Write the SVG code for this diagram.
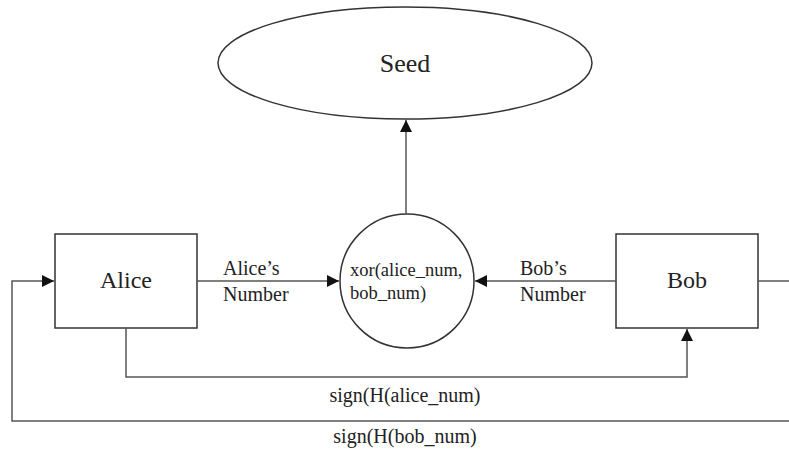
<svg xmlns="http://www.w3.org/2000/svg" width="789" height="450" viewBox="0 0 789 450">
<style>
.shape{fill:#fff;stroke:#333;stroke-width:1.5}
.ln{fill:none;stroke:#555;stroke-width:1.5}
text{font-family:"Liberation Serif","Times New Roman",serif;fill:#222}
.big{font-size:24px;text-anchor:middle}
.lbl{font-size:20px}
.sm{font-size:18.5px}
.mid{text-anchor:middle}
</style>
<defs>
<marker id="ah" markerWidth="12" markerHeight="12" viewBox="0 0 12 12" refX="12" refY="6" orient="auto" markerUnits="userSpaceOnUse">
<path d="M0,0 L12,6 L0,12 Z" fill="#111"/>
</marker>
</defs>
<rect width="789" height="450" fill="#fff"/>
<g id="seed">
<ellipse class="shape" cx="405" cy="63" rx="187" ry="56"/>
<text class="big" x="405" y="72" style="font-size:26px">Seed</text>
</g>
<g id="xor">
<circle class="shape" cx="407" cy="281" r="67"/>
<text class="sm" x="350" y="276">xor(alice_num,</text>
<text class="sm" x="350" y="299">bob_num)</text>
</g>
<g id="alice">
<rect class="shape" x="55" y="234" width="142" height="94"/>
<text class="big" x="126" y="288">Alice</text>
</g>
<g id="bob">
<rect class="shape" x="616" y="234" width="142" height="94"/>
<text class="big" x="687" y="288">Bob</text>
</g>
<g id="connectors">
<path class="ln" d="M406,214 L406,120" marker-end="url(#ah)"/>
<path class="ln" d="M197,281 L339,281" marker-end="url(#ah)"/>
<path class="ln" d="M616,281 L475,281" marker-end="url(#ah)"/>
<path class="ln" d="M126,328 L126,377 L687,377 L687,329" marker-end="url(#ah)"/>
<path class="ln" d="M758,281 L789,281 M789,421 L12,421 L12,281 L54,281" marker-end="url(#ah)"/>
<text class="lbl" x="223" y="275">Alice’s</text>
<text class="lbl" x="223" y="301">Number</text>
<text class="lbl" x="520" y="275">Bob’s</text>
<text class="lbl" x="520" y="301">Number</text>
<text class="lbl mid" x="405" y="402">sign(H(alice_num)</text>
<text class="lbl mid" x="405" y="443">sign(H(bob_num)</text>
</g>
</svg>
